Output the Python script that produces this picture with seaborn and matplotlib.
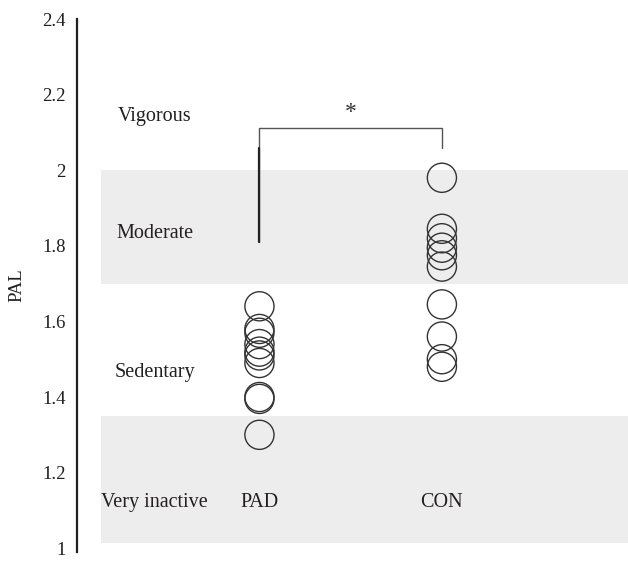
import pandas as pd
import matplotlib.pyplot as plt
import matplotlib.ticker as mticker
import seaborn as sns

# physical activity level (PAL) per subject
groups = ['PAD', 'CON']
pad_pal = [1.64, 1.58, 1.57, 1.54, 1.52, 1.51, 1.49, 1.40, 1.395, 1.30]
con_pal = [1.98, 1.845, 1.82, 1.795, 1.775, 1.745, 1.645, 1.56, 1.50, 1.48]

# PAL category bands and labels
band_names = ['Vigorous', 'Moderate', 'Sedentary', 'Very inactive']
band_label_y = [2.143, 1.832, 1.465, 1.122]
shaded_bands = [(1.70, 2.00), (1.015, 1.35)]

yticks = [1, 1.2, 1.4, 1.6, 1.8, 2, 2.2, 2.4]

df = pd.DataFrame({
    'group': ['PAD'] * len(pad_pal) + ['CON'] * len(con_pal),
    'PAL': pad_pal + con_pal,
})
df['x'] = df['group'].map({g: i for i, g in enumerate(groups)})

sns.set_style('white')
plt.rcParams['font.family'] = ['Liberation Serif', 'DejaVu Serif']

fig = plt.figure(figsize=(6.28, 5.64), dpi=100)
ax = fig.add_axes([0.1226, 0.0213, 0.8774, 0.945])

for lo, hi in shaded_bands:
    ax.fill_between([-0.87, 2.05], lo, hi, color='#ededed', lw=0, zorder=0)

sns.scatterplot(data=df, x='x', y='PAL', ax=ax, s=440, marker='o',
                facecolor='none', edgecolor='#333333', linewidth=1.0,
                zorder=3, legend=False)

# significance bracket
ax.plot([0, 0, 1, 1], [1.81, 2.112, 2.112, 2.06], color='#555555', lw=1.0,
        solid_joinstyle='round', zorder=2)
ax.plot([0, 0], [1.81, 2.06], color='#222222', lw=1.6, zorder=2)
ax.text(0.5, 2.152, '*', ha='center', va='center', fontsize=17, color='#333333')

for name, yy in zip(band_names, band_label_y):
    ax.text(-0.575, yy, name, ha='center', va='center', fontsize=14.5,
            color='#231f20')
for i, g in enumerate(groups):
    ax.text(i, band_label_y[-1], g, ha='center', va='center', fontsize=14.5,
            color='#231f20')

ax.set_xlim(-1.0, 2.02)
ax.set_ylim(0.99, 2.4)
ax.set_yticks(yticks)
ax.yaxis.set_major_formatter(mticker.FuncFormatter(lambda v, p: f'{v:g}'))
ax.tick_params(axis='y', length=0, pad=8, labelsize=13.5, labelcolor='#231f20')
ax.set_xticks([])
ax.set_xlabel('')
ax.set_ylabel('PAL', fontsize=13.5, color='#231f20', labelpad=12)

for side in ['top', 'right', 'bottom']:
    ax.spines[side].set_visible(False)
ax.spines['left'].set_color('#231f20')
ax.spines['left'].set_linewidth(1.6)
ax.set_facecolor('none')

fig.savefig('out.png', dpi=100)
